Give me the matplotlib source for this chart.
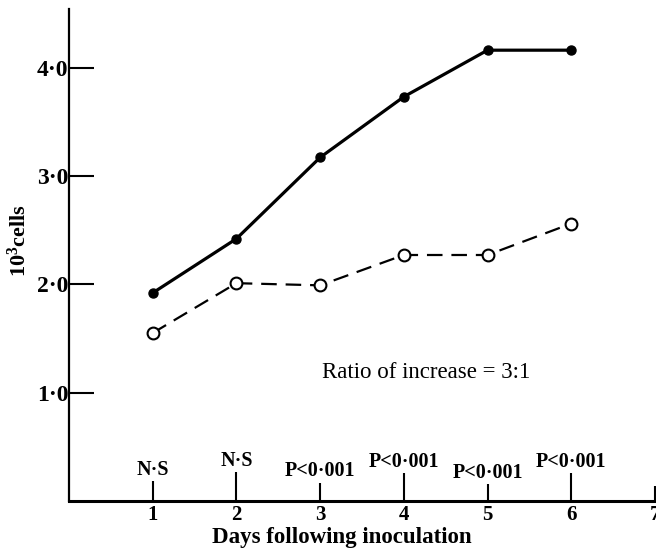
"""
plot.py
Cell counts following inoculation, two groups
"""
import matplotlib
matplotlib.use("Agg")
import matplotlib.pyplot as plt

# data
days = [1, 2, 3, 4, 5, 6]
filled_cells = [1.92, 2.42, 3.17, 3.73, 4.16, 4.16]
open_cells = [1.55, 2.01, 1.99, 2.27, 2.27, 2.56]
y_ticks = [1.0, 2.0, 3.0, 4.0]
y_tick_labels = ["1·0", "2·0", "3·0", "4·0"]
x_ticks = [1, 2, 3, 4, 5, 6, 7]
sig_days = [1, 2, 3, 4, 5, 6]
sig_labels = ["N·S", "N·S", "P<0·001", "P<0·001", "P<0·001", "P<0·001"]
ratio_text = "Ratio of increase = 3:1"

# heights of the little stubs on the x axis (style, staggered)
stub_heights = [0.18, 0.27, 0.17, 0.26, 0.16, 0.26, 0.14]

plt.rcParams["font.family"] = ["Liberation Serif", "DejaVu Serif"]
plt.rcParams["mathtext.fontset"] = "custom"
plt.rcParams["mathtext.rm"] = "Liberation Serif"
plt.rcParams["mathtext.bf"] = "Liberation Serif:bold"

fig = plt.figure(figsize=(6.56, 5.5), dpi=100)
ax = fig.add_axes([69 / 656, 49 / 550, 587 / 656, 492 / 550])

ax.plot(days, filled_cells, color="black", lw=2.3, marker="o", ms=6.5,
        mfc="black", mec="black", zorder=3)
ax.plot(days, open_cells, color="black", lw=1.6, dashes=(7, 4), marker="o",
        ms=8.5, mfc="white", mec="black", mew=1.5, zorder=3)

# significance stubs and labels
ax.vlines(x_ticks, 0, stub_heights, color="black", lw=1.5)
for d, lab, h in zip(sig_days, sig_labels, stub_heights):
    ax.text(d, h + 0.01, lab, ha="center", va="bottom", fontsize=14.5,
            fontweight="bold")

ax.text(4.27, 1.19, ratio_text, ha="center", va="center", fontsize=16.5)

ax.set_xlim(0, 7.013)
ax.set_ylim(0, 4.54)
ax.set_xticks(x_ticks)
ax.set_xticklabels([str(x) for x in x_ticks], fontsize=15, fontweight="bold")
ax.tick_params(axis="x", length=0, pad=3)
ax.set_yticks(y_ticks)
ax.set_yticklabels(y_tick_labels, fontsize=17, fontweight="bold")
ax.tick_params(axis="y", direction="in", length=18, width=1.5, pad=0.5)

for s in ["top", "right"]:
    ax.spines[s].set_visible(False)
ax.spines["left"].set_linewidth(1.6)
ax.spines["bottom"].set_linewidth(2.2)

ax.text(0.465, -0.075, "Days following inoculation", transform=ax.transAxes,
        ha="center", va="center", fontsize=16.5, fontweight="bold")
ax.text(-0.085, 0.53, r"$\mathbf{10^{3}}$cells", transform=ax.transAxes,
        rotation=90, ha="center", va="center", fontsize=16, fontweight="bold")

fig.savefig("out.png", dpi=100)
